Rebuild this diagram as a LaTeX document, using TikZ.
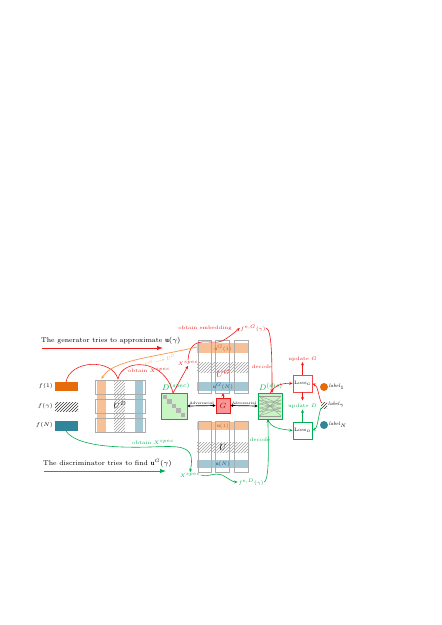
\RequirePackage{fix-cm}
\documentclass[tikz,border=0pt]{standalone}
\usepackage{fontspec}
\usetikzlibrary{patterns,arrows.meta}
\newcommand\myfs[1]{\fontsize{#1}{#1}\selectfont}
\definecolor{myred}{RGB}{240,25,25}
\definecolor{mygreen}{RGB}{0,176,80}
\definecolor{myorange}{RGB}{228,108,10}
\definecolor{lorange}{RGB}{247,192,150}
\definecolor{myteal}{RGB}{49,133,155}
\definecolor{lteal}{RGB}{163,200,212}
\definecolor{lgreen}{RGB}{200,245,195}
\definecolor{arrorange}{RGB}{247,150,70}
\definecolor{gfill}{RGB}{250,150,150}
\definecolor{dorange}{RGB}{200,95,20}
\definecolor{dblue}{RGB}{30,75,140}
\tikzset{
  fillbox/.style={inner sep=0pt, outer sep=0pt},
  grayframe/.style={draw=gray!65, line width=0.6pt},
  hatch/.style={pattern=north east lines, pattern color=gray!75},
  lbl/.style={font=\myfs{5}, inner sep=0.5pt},
  redarr/.style={draw=myred, line width=0.6pt, -{Stealth[length=3.5pt,width=3pt]}},
  grnarr/.style={draw=mygreen, line width=0.6pt, -{Stealth[length=3.5pt,width=3pt]}},
  redline/.style={draw=myred, line width=0.6pt},
  grnline/.style={draw=mygreen, line width=0.6pt},
  advarr/.style={draw=black, line width=0.7pt, {Stealth[length=3pt,width=3pt]}-{Stealth[length=3pt,width=3pt]}},
  lossbox/.style={fill=white, minimum width=19pt, minimum height=17pt, inner sep=0pt, line width=0.7pt, font=\myfs{4.8}},
}
\begin{document}
\begin{tikzpicture}[x=1pt,y=-1pt]
\useasboundingbox (0,0) rectangle (442,625);

% ---- titles
\node[anchor=west, font=\myfs{6.9}, inner sep=0pt] (tgen) at (41,341) {The generator tries to approximate $\mathbf{u}(\gamma)$};
\coordinate (ga) at (42,348); \coordinate (gb) at (163,348);
\draw[myred, line width=0.9pt, -{Latex[length=6pt,width=4.5pt]}] (ga) -- (gb);
\node[anchor=west, font=\myfs{6.9}, inner sep=0pt] (tdis) at (43,463) {The discriminator tries to find $\mathbf{u}^{G}(\gamma)$};
\coordinate (da) at (44,471); \coordinate (db) at (166,471);
\draw[mygreen, line width=0.9pt, -{Latex[length=6pt,width=4.5pt]}] (da) -- (db);

% ---- left feature bars
\node[anchor=east, font=\myfs{5.5}, inner sep=0pt] (lf1) at (53,386) {$f(1)$};
\node[anchor=east, font=\myfs{5.5}, inner sep=0pt] (lfg) at (53,406) {$f(\gamma)$};
\node[anchor=east, font=\myfs{5.5}, inner sep=0pt] (lfN) at (53,425) {$f(N)$};
\node[fillbox, fill=myorange, minimum width=23pt, minimum height=9pt] (f1) at (66.5,386.5) {};
\node[fillbox, pattern=north east lines, pattern color=black!80, minimum width=23pt, minimum height=9pt] (fg) at (66.5,406.5) {};
\node[fillbox, fill=myteal, minimum width=23pt, minimum height=10pt] (fN) at (66.5,425.5) {};

% ---- U^D block
\fill[lorange] (97,380) rectangle (106,432);
\fill[hatch] (114,380) rectangle (125,432);
\fill[lteal] (135,380) rectangle (143,432);
\draw[grayframe] (95,380) rectangle (145,394);
\draw[grayframe] (95,399) rectangle (145,413);
\draw[grayframe] (95,418) rectangle (145,432);
\node[font=\myfs{7.5}, inner sep=0pt] (UD) at (120,405.5) {$U^{D}$};
\coordinate (UDtop) at (101.5,379);

% ---- U^G block
\fill[lorange] (197,343) rectangle (249,353);
\fill[hatch] (197,362) rectangle (249,372);
\fill[lteal] (197,382) rectangle (249,391);
\draw[grayframe] (198,340) rectangle (211,393);
\draw[grayframe] (215,340) rectangle (229,393);
\draw[grayframe] (234,340) rectangle (248,393);
\node[font=\myfs{5}, text=dorange, inner sep=0pt] (uG1) at (223,348) {$\mathbf{u}^{G}(1)$};
\node[font=\myfs{9}, text=myred, inner sep=0pt] (UG) at (223,374) {$U^{G}$};
\node[font=\myfs{5}, text=dblue, inner sep=0pt] (uGN) at (223,386.5) {$\mathbf{u}^{G}(N)$};
\coordinate (UGleft) at (197,347);
\coordinate (UGbot) at (223,393);

% ---- U block
\fill[lorange] (197,422) rectangle (249,430);
\fill[hatch] (197,442) rectangle (249,452);
\fill[lteal] (197,460) rectangle (249,468);
\draw[grayframe] (198,421) rectangle (211,472);
\draw[grayframe] (215,421) rectangle (229,472);
\draw[grayframe] (234,421) rectangle (248,472);
\node[font=\myfs{5}, text=dorange, inner sep=0pt] (u1) at (223,426) {$\mathbf{u}(1)$};
\node[font=\myfs{9}, inner sep=0pt] (U) at (223,447) {$U$};
\node[font=\myfs{5}, text=dblue, inner sep=0pt] (uN) at (223,464) {$\mathbf{u}(N)$};

% ---- G
\node[draw=myred, fill=gfill, line width=0.6pt, minimum width=14pt, minimum height=15pt, inner sep=0pt, font=\myfs{7.5}, text=myred!70!black] (G) at (223,405.5) {$G$};
\draw[redarr] (G.north) -- (UGbot);

% ---- D spec
\node[draw=mygreen, fill=lgreen, line width=0.6pt, minimum width=26pt, minimum height=26pt, inner sep=0pt] (Ds) at (174,406) {};
\foreach \i in {0,...,4} {
  \fill[gray!60] ({162.5+4.6*\i},{394.5+4.6*\i}) rectangle ++(4.4,4.4);
}
\node[anchor=south west, font=\myfs{8}, text=mygreen, inner sep=0pt] (Dslab) at (162,391) {$D^{(spec)}$};

% ---- D dis
\node[draw=mygreen, fill=lgreen, line width=0.6pt, minimum width=24pt, minimum height=26pt, inner sep=0pt] (Dd) at (270,406) {};
\foreach \a/\b in {396/396, 416/416, 396/416, 416/396, 400/412, 412/400, 400/404, 404/400, 408/412, 412/408, 404/408, 408/404, 396/404, 416/408} {
  \draw[gray!80, line width=0.35pt] (259,\a) -- (281,\b);
}
\node[anchor=south west, font=\myfs{8}, text=mygreen, inner sep=0pt] (Ddlab) at (259,391) {$D^{(dis)}$};

% ---- adversarial arrows
\draw[advarr] (Ds.east) -- (G.west) node[midway, above=0.2pt, font=\myfs{3.6}, inner sep=0.3pt] (adv1) {Adversarial};
\draw[advarr] (G.east) -- (Dd.west) node[midway, above=0.2pt, font=\myfs{3.6}, inner sep=0.3pt] (adv2) {Adversarial};

% ---- losses
\node[lossbox, draw=myred!80] (lossG) at (302.5,383.5) {Loss$_{G}$};
\node[lossbox, draw=mygreen] (lossD) at (302.5,430.5) {Loss$_{D}$};
\node[lbl, text=myred] (updG) at (302.5,359) {update $G$};
\node[lbl, text=mygreen] (updD) at (302.5,406.5) {update $D$};
\draw[redarr] (lossG.north) -- (updG.south);
\draw[redarr] (lossG.south) -- (302.5,400.5);
\draw[grnarr] (lossD.north) -- (updD.south);

% ---- right labels
\node[circle, fill=myorange, minimum size=8pt, inner sep=0pt] (c1) at (324,387) {};
\node[anchor=west, font=\myfs{5}, inner sep=0.5pt] (l1) at (c1.east) {\textit{label}$_1$};
\node[fillbox, pattern=north east lines, pattern color=black!80, minimum size=6pt] (c2) at (324,405) {};
\node[anchor=west, font=\myfs{5}, inner sep=0.5pt] (l2) at (327.5,405) {\textit{label}$_\gamma$};
\node[circle, fill=myteal, minimum size=8pt, inner sep=0pt] (c3) at (324,425) {};
\node[anchor=west, font=\myfs{5}, inner sep=0.5pt] (l3) at (c3.east) {\textit{label}$_N$};
\draw[redarr] (c2.north west) .. controls (318,394) and (318,386) .. (lossG.east);
\draw[grnarr] (c2.south west) .. controls (318,416) and (318,428) .. (lossD.east);

% ---- red path: f(1) -> U^D -> D spec -> X spec -> f^{e,G}
\coordinate (f1top) at (66,382);
\coordinate (UDj) at (118,379);
\coordinate (Dstop) at (173,393);
\draw[redline] (f1top) .. controls (70,360) and (112,358) .. (UDj);
\draw[redline] (UDj) .. controls (122,358) and (165,358) .. (Dstop);
\node[lbl, text=myred] (obtR) at (149,370) {obtain $X^{spec}$};
\node[lbl, text=myred] (Xr) at (188,363) {$X^{spec}$};
\draw[redarr] (Dstop) -- (Xr.south);
\node[lbl, text=myred] (fG) at (253,328) {$f^{e,G}(\gamma)$};
\node[lbl, text=myred] (obtE) at (205,328) {obtain embedding};
\draw[redarr] (Xr.north) .. controls (190,332) and (212,346) .. (222,341) .. controls (228,338) and (234,333) .. (fG.west);
\coordinate (Ddtop) at (272,393);
\draw[redarr] (fG.east) .. controls (272,330) and (272,360) .. (Ddtop);
\node[lbl, text=myred] (decR) at (262,367) {decode};
\draw[redarr] (270,393) .. controls (275,384) and (285,383) .. (lossG.west);

% ---- orange arrow U^G -> U^D
\draw[arrorange, line width=0.7pt, -{Stealth[length=3.5pt,width=3pt]}] (UGleft) .. controls (155,357) and (112,360) .. (UDtop);
\node[font=\myfs{4.5}, inner sep=0.3pt, text=arrorange, rotate=14] (oarr) at (160,360.5) {$U^{G}\longrightarrow U^{D}$};

% ---- green path: f(N) -> X spec -> f^{e,D} -> D dis
\coordinate (fNbot) at (66,431);
\node[lbl, text=mygreen] (obtG) at (153,442) {obtain $X^{spec}$};
\node[lbl, text=mygreen] (Xg) at (190,475) {$X^{spec}$};
\draw[grnarr] (fNbot) .. controls (76,446) and (115,448) .. (150,447) .. controls (180,446) and (196,444) .. (Xg.north);
\node[lbl, text=mygreen] (fD) at (251,482) {$f^{e,D}(\gamma)$};
\draw[grnarr] (Xg.east) .. controls (206,478) and (214,472) .. (222,475) .. controls (228,478) and (232,482) .. (fD.west);
\coordinate (Ddbot) at (268,419);
\draw[grnarr] (fD.east) .. controls (270,478) and (268,440) .. (Ddbot);
\node[lbl, text=mygreen] (decG) at (260,440) {decode};
\draw[grnarr] (Ddbot) .. controls (270,428) and (280,429) .. (lossD.west);
\end{tikzpicture}
\end{document}
